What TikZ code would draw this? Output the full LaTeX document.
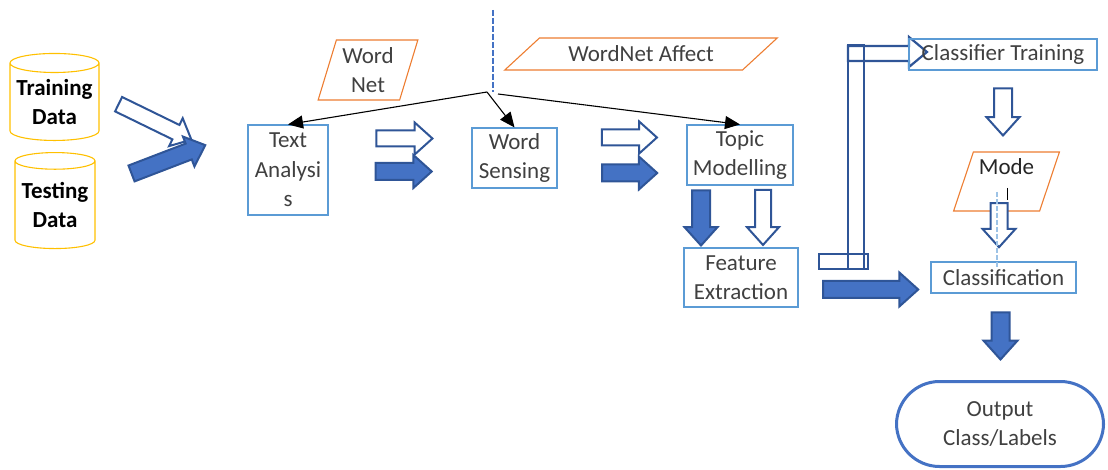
\documentclass[tikz,border=0pt]{standalone}
\usepackage{fontspec}
\setmainfont{Carlito}
\usetikzlibrary{shapes.geometric,shapes.arrows,arrows.meta}
\definecolor{boxblue}{HTML}{5B9BD5}
\definecolor{arrline}{HTML}{2F5597}
\definecolor{arrfill}{HTML}{4472C4}
\definecolor{orng}{HTML}{ED7D31}
\definecolor{cylgold}{HTML}{FFC000}
\definecolor{txtgray}{HTML}{404040}
\definecolor{dashblue}{HTML}{9DC3E6}
\tikzset{
  box/.style={draw=boxblue, line width=1.1pt, text=txtgray, align=center, inner sep=0pt},
  para/.style={trapezium, trapezium stretches=true, draw=orng, line width=1.1pt,
    text=txtgray, align=center, inner sep=0pt},
  cyl/.style={cylinder, shape border rotate=90, aspect=0.25, draw=cylgold, line width=1.1pt,
    align=center, inner sep=0pt, font=\fontsize{23}{29.5}\selectfont\bfseries},
  blk/.style={single arrow, draw=arrline, line width=2pt, inner xsep=0pt,
    single arrow head indent=0pt, single arrow tip angle=84},
  hollowarr/.style={blk, fill=white},
  fullarr/.style={blk, fill=arrfill},
  conn/.style={line width=1.1pt, -{Triangle[length=15pt,width=13pt]}}
}
\begin{document}
\begin{tikzpicture}[x=1pt, y=-1pt, font=\fontsize{23}{29.5}\selectfont]
\useasboundingbox (0,0) rectangle (1108,470);

% data stores
\node[cyl, minimum width=89, minimum height=87] (train) at (54.5,102) {Training\\Data};
\node[cyl, minimum width=80, minimum height=96] (test) at (55,205) {Testing\\Data};
\node[hollowarr, minimum height=81, inner ysep=7pt, single arrow head extend=7.5pt, rotate=-26] (trarr) at (151,120) {};
\node[fullarr, minimum height=79, inner ysep=7.5pt, single arrow head extend=7.5pt, rotate=21] (tearr) at (164,161) {};

% lexical resources
\node[para, minimum width=100, minimum height=60, trapezium left angle=72, trapezium right angle=108] (wn) at (368,70) {Word\\Net};
\node[para, minimum width=273, minimum height=32, trapezium left angle=33, trapezium right angle=147] (wna) at (641,54) {WordNet Affect};
\coordinate (dtop) at (493,10);
\coordinate (dbot) at (493,92);
\draw[arrfill, line width=1.2pt, dash pattern=on 6pt off 2pt] (dtop) -- (dbot);

% pipeline
\node[box, minimum width=80, minimum height=90] (ta) at (288,170) {Text\\Analysi\\s};
\node[box, minimum width=85, minimum height=60] (ws) at (514.5,158) {Word\\Sensing};
\node[box, minimum width=106, minimum height=60] (tm) at (740,155) {Topic\\Modelling};
\node[box, minimum width=114, minimum height=59] (fe) at (741,277.5) {Feature\\Extraction};

\node[hollowarr, minimum height=56, inner ysep=7pt, single arrow head extend=8pt] (ha1) at (400,138.5) {};
\node[fullarr, minimum height=56, inner ysep=7.5pt, single arrow head extend=8pt] (fa1) at (399,171.5) {};
\node[hollowarr, minimum height=55, inner ysep=7pt, single arrow head extend=8pt] (ha2) at (625,137.5) {};
\node[fullarr, minimum height=55, inner ysep=7.5pt, single arrow head extend=8pt] (fa2) at (625,173) {};
\node[fullarr, minimum height=55, inner ysep=8pt, single arrow head extend=7.5pt, rotate=-90] (fa3) at (701,213) {};
\node[hollowarr, minimum height=55, inner ysep=7pt, single arrow head extend=8pt, rotate=-90] (ha3) at (763,213) {};

\coordinate (hub) at (487,92);
\coordinate (hubr) at (498,94);
\draw[conn] (hub) -- (ta.north);
\draw[conn] (hub) -- (ws.north);
\draw[conn] (hubr) -- (tm.north);

% bent arrow to training
\draw[arrline, line width=2.2pt] (819,254) rectangle (868,269);
\draw[arrline, line width=2.2pt] (848,45) rectangle (864,269);
\draw[arrline, line width=2.2pt] (848,46) -- (909,46) -- (909,37) -- (927,52) -- (909,67) -- (909,61) -- (848,61) -- cycle;
\node[fullarr, minimum height=95, inner ysep=7.5pt, single arrow head extend=8.5pt] (fa4) at (866,289.5) {};

% classifier side
\node[box, minimum width=188, minimum height=31] (ct) at (1003,54.5) {Classifier Training};
\node[hollowarr, minimum height=47, inner ysep=8pt, single arrow head extend=7.5pt, rotate=-90] (ha4) at (1003,107) {};
\node[para, minimum width=106, minimum height=59, trapezium left angle=70, trapezium right angle=110, text=black!85] (mode) at (1006.5,181.5) {Mode\\\phantom{M}};
\coordinate (tk1) at (1007,188);
\coordinate (tk2) at (1007,200);
\draw[black, line width=1pt] (tk1) -- (tk2);
\node[hollowarr, minimum height=44, inner ysep=7.5pt, single arrow head extend=8pt, rotate=-90] (ha5) at (999,220.5) {};
\node[box, minimum width=145, minimum height=31] (cl) at (1003.5,277.5) {Classification};
\coordinate (ld1) at (997,192);
\coordinate (ld2) at (997,267);
\draw[dashblue, line width=1.2pt, dash pattern=on 5pt off 2pt] (ld1) -- (ld2);
\node[fullarr, minimum height=47, inner ysep=8pt, single arrow head extend=8pt, rotate=-90] (fa5) at (1000.5,331) {};
\node[draw=arrfill, line width=3pt, rounded corners=43pt, minimum width=207, minimum height=85, text=txtgray, align=center] (out) at (1000,424) {Output\\Class/Labels};
\end{tikzpicture}
\end{document}
